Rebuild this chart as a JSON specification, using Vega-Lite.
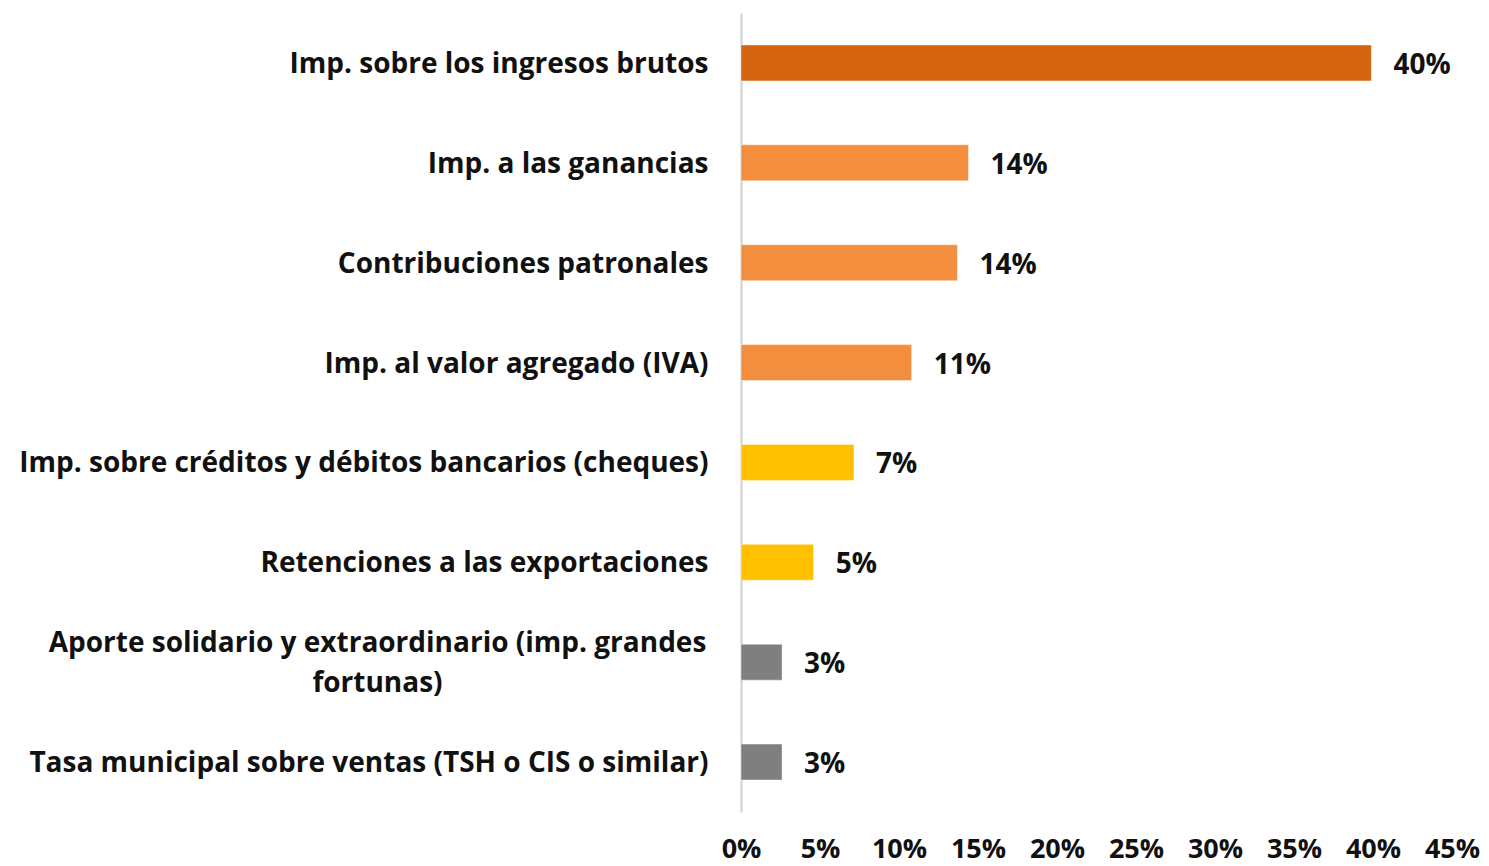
{
  "$schema": "https://vega.github.io/schema/vega-lite/v6.json",
  "width": 711,
  "height": 799,
  "autosize": "none",
  "padding": {"left": 741, "top": 13, "right": 37, "bottom": 54},
  "background": "white",
  "config": {
    "view": {"stroke": null},
    "font": "Open Sans"
  },
  "data": {
    "values": [
      {"impuesto": "Imp. sobre los ingresos brutos", "valor": 0.399, "grupo": "a"},
      {"impuesto": "Imp. a las ganancias", "valor": 0.144, "grupo": "b"},
      {"impuesto": "Contribuciones patronales", "valor": 0.137, "grupo": "b"},
      {"impuesto": "Imp. al valor agregado (IVA)", "valor": 0.108, "grupo": "b"},
      {"impuesto": "Imp. sobre créditos y débitos bancarios (cheques)", "valor": 0.0715, "grupo": "c"},
      {"impuesto": "Retenciones a las exportaciones", "valor": 0.046, "grupo": "c"},
      {"impuesto": "Aporte solidario y extraordinario (imp. grandes fortunas)", "valor": 0.026, "grupo": "d"},
      {"impuesto": "Tasa municipal sobre ventas (TSH o CIS o similar)", "valor": 0.026, "grupo": "d"}
    ]
  },
  "encoding": {
    "y": {
      "field": "impuesto",
      "type": "nominal",
      "sort": null,
      "scale": {"paddingInner": 0.64, "paddingOuter": 0.32},
      "axis": {
        "title": null,
        "ticks": false,
        "domainColor": "#D0D0D0",
        "domainWidth": 2,
        "labelFont": "Open Sans",
        "labelFontWeight": "bold",
        "labelFontSize": 28,
        "labelColor": "#111111",
        "labelLimit": 800,
        "labelLineHeight": 40,
        "labelPadding": {"condition": {"test": "datum.value == 'Aporte solidario y extraordinario (imp. grandes fortunas)'", "value": 364}, "value": 33},
        "labelAlign": {"condition": {"test": "datum.value == 'Aporte solidario y extraordinario (imp. grandes fortunas)'", "value": "center"}, "value": "right"},
        "labelOffset": {"condition": {"test": "datum.value == 'Aporte solidario y extraordinario (imp. grandes fortunas)'", "value": -18}, "value": 2},
        "labelExpr": "datum.value == 'Aporte solidario y extraordinario (imp. grandes fortunas)' ? ['Aporte solidario y extraordinario (imp. grandes', 'fortunas)'] : datum.value"
      }
    },
    "x": {
      "field": "valor",
      "type": "quantitative",
      "scale": {"domain": [0, 0.45], "nice": false},
      "axis": {
        "title": null,
        "format": ".0%",
        "values": [0, 0.05, 0.1, 0.15, 0.2, 0.25, 0.3, 0.35, 0.4, 0.45],
        "grid": false,
        "domain": false,
        "ticks": false,
        "labelFont": "Open Sans",
        "labelFontWeight": "bold",
        "labelFontSize": 27,
        "labelColor": "#111111",
        "labelPadding": 24,
        "labelFlush": false,
        "labelOverlap": false
      }
    }
  },
  "layer": [
    {
      "mark": {"type": "bar", "stroke": "white", "strokeOpacity": 0.45, "strokeWidth": 1},
      "encoding": {
        "color": {
          "field": "grupo",
          "type": "nominal",
          "scale": {"domain": ["a", "b", "c", "d"], "range": ["#D4640F", "#F28E3D", "#FFC000", "#7F7F7F"]},
          "legend": null
        }
      }
    },
    {
      "mark": {"type": "text", "align": "left", "baseline": "middle", "dx": 22, "dy": 3, "font": "Open Sans", "fontWeight": "bold", "fontSize": 28, "color": "#111111"},
      "encoding": {
        "text": {"field": "valor", "type": "quantitative", "format": ".0%"}
      }
    }
  ]
}
